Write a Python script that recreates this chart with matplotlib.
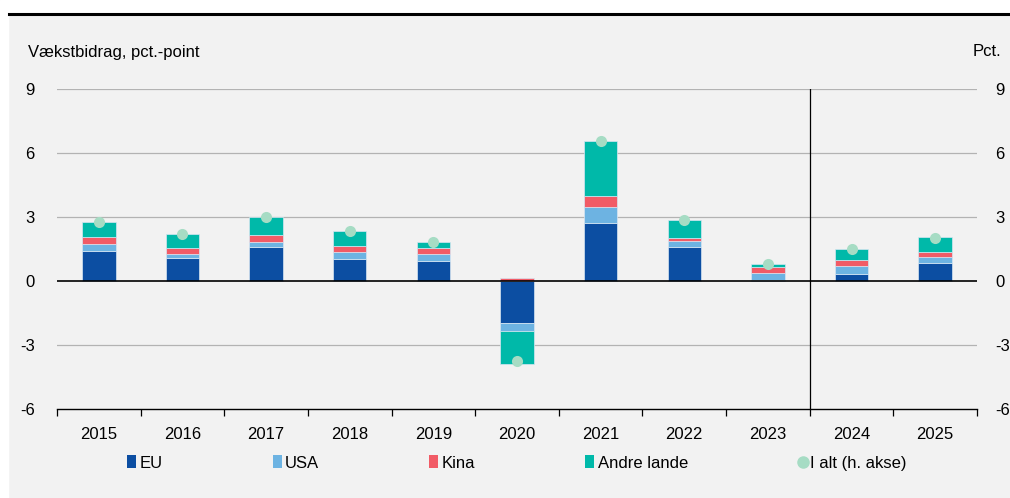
import numpy as np
import matplotlib
matplotlib.use("Agg")
from matplotlib import pyplot as plt
from matplotlib.patches import Patch, Rectangle
from matplotlib.lines import Line2D

plt.rcParams['font.family'] = ['Liberation Sans', 'DejaVu Sans']
plt.rcParams['font.size'] = 12

years = ['2015', '2016', '2017', '2018', '2019', '2020', '2021', '2022', '2023', '2024', '2025']
eu = [1.41, 1.06, 1.61, 1.05, 0.94, -1.98, 2.72, 1.59, 0.06, 0.34, 0.86]
usa = [0.31, 0.19, 0.23, 0.30, 0.31, -0.35, 0.75, 0.27, 0.33, 0.38, 0.27]
kina = [0.33, 0.31, 0.31, 0.28, 0.28, 0.14, 0.50, 0.17, 0.28, 0.25, 0.25]
andre = [0.70, 0.66, 0.83, 0.70, 0.28, -1.58, 2.61, 0.83, 0.11, 0.53, 0.66]
i_alt = [2.75, 2.22, 2.98, 2.33, 1.81, -3.75, 6.58, 2.86, 0.78, 1.50, 2.03]

series = [('EU', eu, '#0c4ea2'), ('USA', usa, '#6db3e2'),
          ('Kina', kina, '#f15b66'), ('Andre lande', andre, '#00b9a9')]
dot_color = '#a6dcc4'
bg = '#f2f2f2'

fig = plt.figure(figsize=(10.1, 4.98), dpi=100)
fig.patch.set_facecolor(bg)
# white margin at top/left with the black rule under the (cut off) title
fig.patches.append(Rectangle((0, 1 - 14 / 498), 1, 14 / 498, transform=fig.transFigure, color='white', zorder=0))
fig.patches.append(Rectangle((0, 0), 8 / 1010, 1, transform=fig.transFigure, color='white', zorder=0))
fig.add_artist(Line2D([9 / 1010, 1], [1 - 14 / 498] * 2, transform=fig.transFigure, color='black', lw=2.2))

ax = fig.add_axes([57 / 1010, 1 - 409 / 498, 920 / 1010, 320 / 498])
ax.set_facecolor(bg)
x = np.arange(len(years))
pos_bottom = np.zeros(len(years))
neg_bottom = np.zeros(len(years))
for name, vals, col in series:
    v = np.array(vals)
    bottom = np.where(v >= 0, pos_bottom, neg_bottom)
    ax.bar(x, v, 0.4, bottom=bottom, color=col, edgecolor='#d8e6f2', linewidth=0.5, zorder=3)
    pos_bottom += np.where(v >= 0, v, 0)
    neg_bottom += np.where(v < 0, v, 0)

ax.set_xlim(-0.5, len(years) - 0.5)
ax.set_ylim(-6, 9)
yt = [-6, -3, 0, 3, 6, 9]
ax.set_yticks(yt)
ax.set_yticklabels([str(t) for t in yt])
for t in [-3, 3, 6, 9]:
    ax.axhline(t, color='#b3b3b3', lw=0.9, zorder=1)
ax.axhline(0, color='black', lw=1.2, zorder=4)
ax.axvline(8.5, ymin=0, ymax=1, color='black', lw=0.9, zorder=4)

ax.set_xticks(x)
ax.set_xticklabels(years)
ax.set_xticks(np.arange(-0.5, len(years)), minor=True)
ax.tick_params(axis='x', which='major', length=0, pad=13)
ax.tick_params(axis='x', which='minor', length=5, width=0.9, direction='out', color='black')
ax.tick_params(axis='y', length=0, pad=16)
for s in ['top', 'left', 'right']:
    ax.spines[s].set_visible(False)
ax.spines['bottom'].set_color('black')
ax.spines['bottom'].set_linewidth(1.0)

ax2 = ax.twinx()
ax2.set_ylim(-6, 9)
ax2.set_yticks(yt)
ax2.set_yticklabels([str(t) for t in yt])
ax2.tick_params(axis='y', length=0, pad=13)
for s in ax2.spines.values():
    s.set_visible(False)
ax2.scatter(x, i_alt, s=64, color=dot_color, zorder=5, linewidths=0)

fig.text(28 / 1010, 1 - 52 / 498, 'Vækstbidrag, pct.-point', ha='left', va='center')
fig.text(1001 / 1010, 1 - 52 / 498, 'Pct.', ha='right', va='center')

handles = [Patch(facecolor=c, edgecolor='none') for _, _, c in series]
handles.append(Line2D([], [], marker='o', ls='none', color=dot_color, markersize=8))
labels = [n for n, _, _ in series] + ['I alt (h. akse)']
fig.legend(handles, labels, loc='center', bbox_to_anchor=(517 / 1010, 1 - 463 / 498), ncol=5,
           frameon=False, handlelength=0.55, handleheight=0.8, handletextpad=0.2,
           columnspacing=6.6, borderaxespad=0)

fig.savefig('out.png', dpi=100, facecolor=fig.get_facecolor())
